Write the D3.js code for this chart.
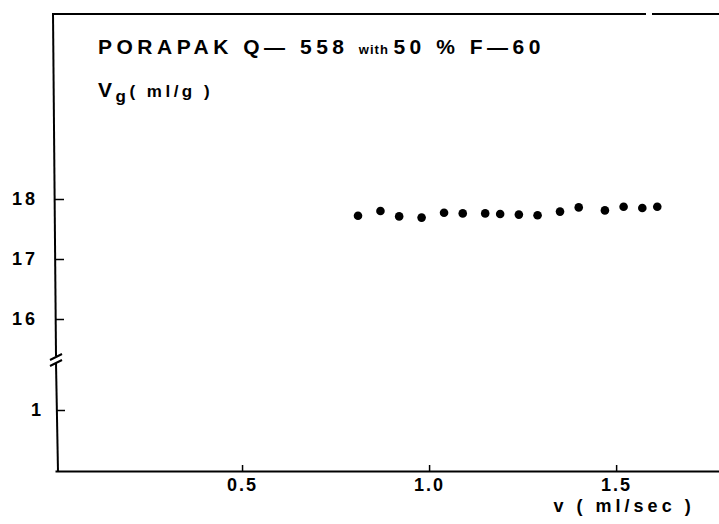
<!DOCTYPE html>
<html>
<head>
<meta charset="utf-8">
<script src="https://cdn.jsdelivr.net/npm/d3@7"></script>
<style>
body { margin: 0; background: #fff; }
svg text { font-family: "Liberation Sans", Arial, sans-serif; font-weight: bold; fill: #000; }
</style>
</head>
<body>
<svg id="chart" width="719" height="524"></svg>
<script>
// values
var flowRates = [0.81, 0.87, 0.92, 0.98, 1.04, 1.09, 1.15, 1.19, 1.24, 1.29, 1.35, 1.40, 1.47, 1.52, 1.57, 1.61];
var retention = [17.72, 17.80, 17.71, 17.69, 17.77, 17.76, 17.76, 17.75, 17.74, 17.73, 17.79, 17.86, 17.81, 17.87, 17.85, 17.87];
var xTicks = [0.5, 1.0, 1.5];
var yTicksUpper = [16, 17, 18];
var yTicksLower = [1];

var svg = d3.select("#chart");
var width = +svg.attr("width");

var x = d3.scaleLinear().domain([0, 1.775]).range([55, width]);
// broken y axis: two pieces
var yUp = d3.scaleLinear().domain([16, 18]).range([319, 199]);
var yLow = d3.scaleLinear().domain([0, 1]).range([471, 410]);

var breakY = 360;

// frame top line (with the small gap seen in the scan)
svg.append("line").attr("x1", 53).attr("x2", 646).attr("y1", 14).attr("y2", 14)
  .attr("stroke", "#000").attr("stroke-width", 2);
svg.append("line").attr("x1", 652).attr("x2", width).attr("y1", 14).attr("y2", 14)
  .attr("stroke", "#000").attr("stroke-width", 2);

// left axis line, slightly slanted, broken at breakY
svg.append("line").attr("x1", 53).attr("y1", 13).attr("x2", 56).attr("y2", breakY - 4)
  .attr("stroke", "#000").attr("stroke-width", 2);
svg.append("line").attr("x1", 56).attr("y1", breakY + 3).attr("x2", 58).attr("y2", 472)
  .attr("stroke", "#000").attr("stroke-width", 2);
[-3, 3].forEach(function(o){
  svg.append("line")
    .attr("x1", 50).attr("y1", breakY + o + 3)
    .attr("x2", 62).attr("y2", breakY + o - 3)
    .attr("stroke", "#000").attr("stroke-width", 2);
});

var upAxis = svg.append("g").attr("transform", "translate(55,0)")
  .call(d3.axisLeft(yUp).tickValues(yTicksUpper).tickSize(-9).tickPadding(17)
    .tickFormat(d3.format("d")));
var lowAxis = svg.append("g").attr("transform", "translate(57,0)")
  .call(d3.axisLeft(yLow).tickValues(yTicksLower).tickSize(-8).tickPadding(13)
    .tickFormat(d3.format("d")));
[upAxis, lowAxis].forEach(function(g){
  g.select(".domain").remove();
  g.selectAll(".tick line").attr("stroke-width", 1.5);
  g.selectAll("text").style("font-size", "18px").style("letter-spacing", "3px")
    .attr("font-family", null);
});

var xAxis = svg.append("g").attr("transform", "translate(0,471)")
  .call(d3.axisBottom(x).tickValues(xTicks).tickSize(-6).tickSizeOuter(0)
    .tickPadding(7).tickFormat(d3.format(".1f")));
xAxis.select(".domain").attr("stroke-width", 2);
xAxis.selectAll(".tick line").attr("stroke-width", 1.5);
xAxis.selectAll("text").style("font-size", "18px").style("letter-spacing", "2px")
  .attr("font-family", null);

// points
svg.append("g").selectAll("circle")
  .data(flowRates)
  .enter().append("circle")
  .attr("cx", function(d){ return x(d); })
  .attr("cy", function(d, i){ return yUp(retention[i]); })
  .attr("r", 4.3)
  .attr("fill", "#000");

// title
var title = svg.append("text").attr("x", 98).attr("y", 54)
  .style("font-size", "21px").style("letter-spacing", "4.5px");
title.append("tspan").text("PORAPAK Q\u2014 558 ");
title.append("tspan").text("with ").style("font-size", "13px").style("letter-spacing", "1px");
title.append("tspan").text("50 % F\u201460");

// y label
var ylab = svg.append("text").attr("x", 98).attr("y", 97)
  .style("font-size", "21px").style("letter-spacing", "3.5px");
ylab.append("tspan").text("V");
ylab.append("tspan").text("g").attr("dy", 5).style("font-size", "17px");
ylab.append("tspan").text("( ml/g )").attr("dy", -5).style("font-size", "17px");

// x label
svg.append("text").attr("x", x(1.5) + 8).attr("y", 512)
  .attr("text-anchor", "middle")
  .style("font-size", "18px").style("letter-spacing", "4px")
  .text("v ( ml/sec )");
</script>
</body>
</html>
